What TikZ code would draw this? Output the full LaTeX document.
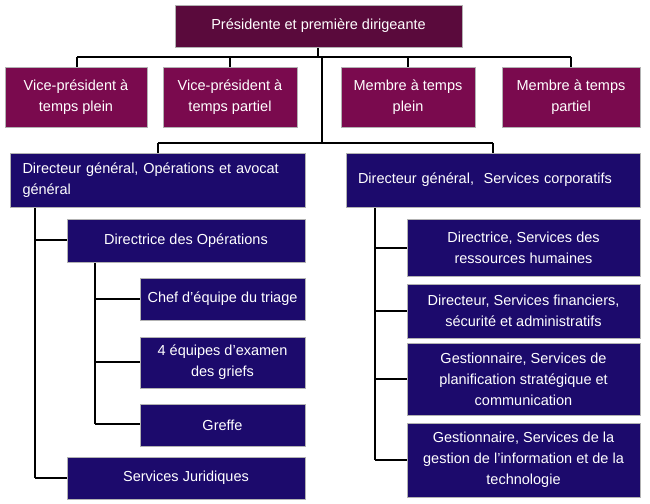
\documentclass[tikz,border=0pt]{standalone}
\usepackage{fontspec}
\setmainfont{Liberation Sans}
\definecolor{top}{HTML}{5A0A3C}
\definecolor{vp}{HTML}{7A0A4E}
\definecolor{nav}{HTML}{1C0A6C}
\begin{document}
\begin{tikzpicture}[x=1pt,y=-1pt,
 box/.style={draw=gray!60,line width=0.6pt,text=white,font=\fontsize{14.5}{21}\selectfont,align=center,inner sep=2pt},
 ln/.style={line width=2.2pt,black}]
\useasboundingbox (0,0) rectangle (650,503);
\def\bx#1#2#3#4#5#6#7{\node[box,fill=#6,minimum width=#3-#2,minimum height=#5-#4] (#1) at ({(#2+#3)/2},{(#4+#5)/2}) {#7};}
% connectors
\draw[ln] (318,47) -- (318,57);
\draw[ln] (77,57) -- (571,57);
\foreach \x in {77,230,408,571} \draw[ln] (\x,57) -- (\x,67);
\draw[ln] (322,57) -- (322,143);
\draw[ln] (158,143) -- (493,143);
\draw[ln] (158,143) -- (158,153); \draw[ln] (493,143) -- (493,153);
\draw[ln] (35,207) -- (35,478);
\draw[ln] (35,240) -- (67,240); \draw[ln] (35,478) -- (67,478);
\draw[ln] (95,262) -- (95,424);
\foreach \y in {299,362,424} \draw[ln] (95,\y) -- (140,\y);
\draw[ln] (375,207) -- (375,460);
\foreach \y in {248,311,379,460} \draw[ln] (375,\y) -- (407,\y);
% boxes
\bx{p}{175}{462}{5}{47}{top}{Présidente et première dirigeante}
\bx{v1}{5}{147}{67}{127}{vp}{Vice-président à\\temps plein}
\bx{v2}{163}{297}{67}{127}{vp}{Vice-président à\\temps partiel}
\bx{v3}{341}{475}{67}{127}{vp}{Membre à temps\\plein}
\bx{v4}{502}{640}{67}{127}{vp}{Membre à temps\\partiel}
\node[box,fill=nav,minimum width=295,minimum height=54,align=left,text width=270] (dg1) at (157.5,180) {Directeur général, Opérations et avocat\\général};
\node[box,fill=nav,minimum width=294,minimum height=54,align=left,text width=270] (dg2) at (493,180) {Directeur général,\ \ Services corporatifs};
\bx{do}{67}{305}{219}{262}{nav}{Directrice des Opérations}
\bx{c1}{140}{305}{278}{320}{nav}{Chef d’équipe du triage}
\bx{c2}{140}{305}{337}{388}{nav}{4 équipes d’examen\\des griefs}
\bx{c3}{140}{305}{404}{446}{nav}{Greffe}
\bx{sj}{67}{305}{457}{499}{nav}{Services Juridiques}
\bx{r1}{407}{640}{219}{276}{nav}{Directrice, Services des\\ressources humaines}
\bx{r2}{407}{640}{284}{338}{nav}{Directeur, Services financiers,\\sécurité et administratifs}
\bx{r3}{407}{640}{343}{415}{nav}{Gestionnaire, Services de\\planification stratégique et\\communication}
\bx{r4}{407}{640}{423}{497}{nav}{Gestionnaire, Services de la\\gestion de l’information et de la\\technologie}
\end{tikzpicture}
\end{document}
